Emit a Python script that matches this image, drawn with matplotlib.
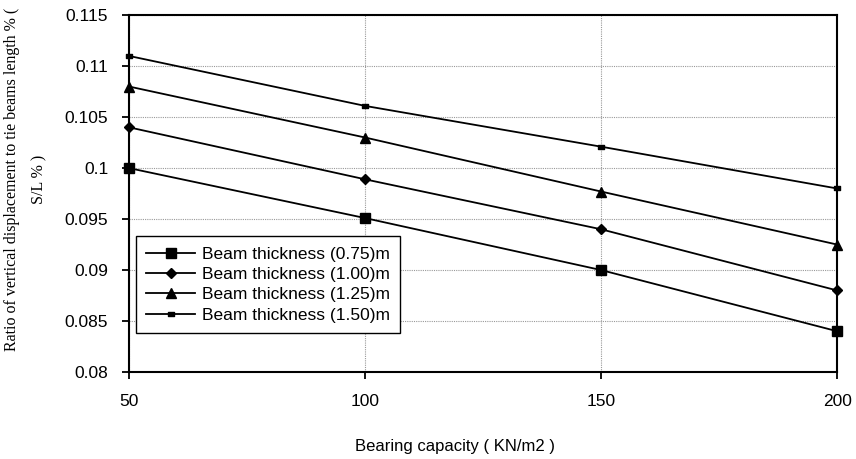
import numpy as np
import matplotlib.pyplot as plt
from matplotlib.path import Path

# Dados
bearing = [50, 100, 150, 200]
t075 = [0.100, 0.0951, 0.0900, 0.0840]
t100 = [0.104, 0.0989, 0.0940, 0.0880]
t125 = [0.108, 0.1030, 0.0977, 0.0925]
t150 = [0.111, 0.1061, 0.1021, 0.0980]
labels = ['Beam thickness (0.75)m', 'Beam thickness (1.00)m',
          'Beam thickness (1.25)m', 'Beam thickness (1.50)m']

plt.rcParams['font.family'] = ['Liberation Sans', 'DejaVu Sans']

fig = plt.figure(figsize=(8.56, 4.59), dpi=100)
ax = fig.add_axes([0.1507, 0.1895, 0.8273, 0.7775])

# marcador de traço (retângulo baixo)
dash = Path([(-1, -0.45), (1, -0.45), (1, 0.45), (-1, 0.45), (-1, -0.45)],
            [Path.MOVETO, Path.LINETO, Path.LINETO, Path.LINETO, Path.CLOSEPOLY])

ax.plot(bearing, t075, color='black', lw=1.3, marker='s', ms=6.5, label=labels[0], clip_on=False, zorder=3)
ax.plot(bearing, t100, color='black', lw=1.3, marker='D', ms=5.5, label=labels[1], clip_on=False, zorder=3)
ax.plot(bearing, t125, color='black', lw=1.3, marker='^', ms=7, label=labels[2], clip_on=False, zorder=3)
ax.plot(bearing, t150, color='black', lw=1.3, marker=dash, ms=5, label=labels[3], clip_on=False, zorder=3)

ax.set_xlim(50, 200)
ax.set_ylim(0.08, 0.115)
ax.set_xticks([50, 100, 150, 200])
ax.set_yticks(np.arange(0.08, 0.1151, 0.005))
ax.set_yticklabels(['0.08', '0.085', '0.09', '0.095', '0.1', '0.105', '0.11', '0.115'])

ax.grid(True, color='#999999', linestyle=(0, (1, 1)), linewidth=0.8)
ax.set_axisbelow(True)
for s in ax.spines.values():
    s.set_linewidth(1.5)
    s.set_color('black')

ax.tick_params(axis='x', direction='out', length=5, width=1.3, pad=11, labelsize=12.5)
ax.tick_params(axis='y', direction='out', length=5, width=1.3, pad=10, labelsize=12.5)

ax.set_xlabel('Bearing capacity ( KN/m2 )', fontsize=12)
ax.xaxis.set_label_coords(0.46, -0.188)

# rótulo do eixo y (serifado, duas linhas)
fig.text(0.014, 0.61, 'Ratio of vertical displacement to tie beams length % (',
         rotation=90, ha='center', va='center', fontsize=11.5,
         family=['Liberation Serif', 'DejaVu Serif'])
fig.text(0.0455, 0.61, 'S/L % )', rotation=90, ha='center', va='center',
         fontsize=11.5, family=['Liberation Serif', 'DejaVu Serif'])

leg = ax.legend(loc='upper left', bbox_to_anchor=(0.0099, 0.381), fontsize=12.5,
                frameon=True, fancybox=False, edgecolor='black', framealpha=1,
                handlelength=2.8, borderpad=0.6, labelspacing=0.3, handletextpad=0.4,
                borderaxespad=0)
leg.get_frame().set_linewidth(1.0)

plt.savefig('out.png', dpi=100)
